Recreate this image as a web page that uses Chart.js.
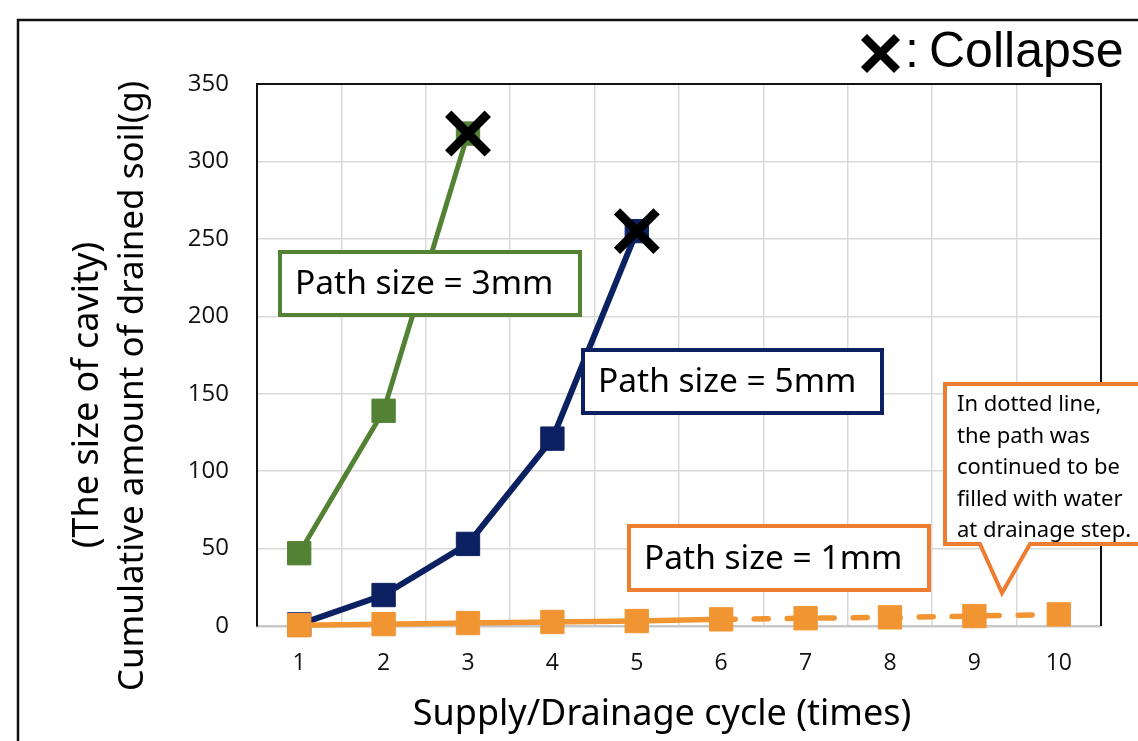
<!DOCTYPE html>
<html>
<head>
<meta charset="utf-8">
<script src="https://cdn.jsdelivr.net/npm/chart.js@4"></script>
<style>
  html, body { margin: 0; padding: 0; background: #fff; }
  #wrap { width: 1138px; height: 741px; position: relative; }
</style>
</head>
<body>
<div id="wrap"><canvas id="c" width="1138" height="741"></canvas></div>
<script>
// ---- data ----
const categories = ['1', '2', '3', '4', '5', '6', '7', '8', '9', '10'];
const size3mm = [47, 139, 318, null, null, null, null, null, null, null];
const size5mm = [1, 20, 53, 121, 255, null, null, null, null, null];
const size1mm = [0.5, 1.2, 1.9, 2.6, 3.2, 4.3, 5.0, 5.6, 6.4, 7.5];
const collapsePoints = [null, null, 318, null, 255, null, null, null, null, null];
const yTickValues = [0, 50, 100, 150, 200, 250, 300, 350];
const dashedFromIndex = 5; // segments after cycle 6 are dotted

const labelFont = '"Noto Sans", "Open Sans", sans-serif';
const tickFont = '"Open Sans", "Noto Sans", sans-serif';

const GREEN = '#548235';
const NAVY = '#0B2162';
const ORANGE_M = '#F19533';
const ORANGE_B = '#ED7D31';

const decorPlugin = {
  id: 'decor',
  beforeDraw(chart) {
    const ctx = chart.ctx;
    ctx.save();
    ctx.fillStyle = '#fff';
    ctx.fillRect(0, 0, chart.width, chart.height);
    ctx.strokeStyle = '#111';
    ctx.lineWidth = 2.5;
    ctx.beginPath();
    ctx.moveTo(18, chart.height + 5);
    ctx.lineTo(18, 20);
    ctx.lineTo(chart.width + 5, 20);
    ctx.stroke();
    ctx.restore();
  },
  beforeDatasetsDraw(chart) {
    const ctx = chart.ctx;
    const a = chart.chartArea;
    ctx.save();
    ctx.strokeStyle = '#111';
    ctx.lineWidth = 2;
    ctx.beginPath();
    ctx.moveTo(a.left, a.top);
    ctx.lineTo(a.right, a.top);
    ctx.lineTo(a.right, a.bottom);
    ctx.stroke();
    ctx.restore();
  },
  afterDraw(chart) {
    const ctx = chart.ctx;
    ctx.save();
    ctx.fillStyle = '#000';
    ctx.textAlign = 'center';
    ctx.textBaseline = 'middle';
    ctx.font = '36px ' + labelFont;
    ctx.fillText('Supply/Drainage cycle (times)', 662, 715);
    ctx.save();
    ctx.translate(88, 395);
    ctx.rotate(-Math.PI / 2);
    ctx.font = '36px ' + labelFont;
    ctx.fillText('(The size of cavity)', 0, 0);
    ctx.restore();
    ctx.save();
    ctx.translate(133, 386);
    ctx.rotate(-Math.PI / 2);
    ctx.font = '35px ' + labelFont;
    ctx.fillText('Cumulative amount of drained soil(g)', 0, 0);
    ctx.restore();

    // Collapse legend
    ctx.strokeStyle = '#000';
    ctx.lineWidth = 8.5;
    ctx.beginPath();
    ctx.moveTo(864, 37); ctx.lineTo(897, 70);
    ctx.moveTo(897, 37); ctx.lineTo(864, 70);
    ctx.stroke();
    ctx.textAlign = 'left';
    ctx.font = '50px "Liberation Sans", sans-serif';
    ctx.fillText(':', 905, 53);
    ctx.fillText('Collapse', 929, 53);

    function box(x, y, w, h, color, text) {
      ctx.fillStyle = '#fff';
      ctx.fillRect(x, y, w, h);
      ctx.strokeStyle = color;
      ctx.lineWidth = 4;
      ctx.strokeRect(x, y, w, h);
      ctx.fillStyle = '#000';
      ctx.font = '33.5px ' + labelFont;
      ctx.textAlign = 'left';
      ctx.textBaseline = 'middle';
      ctx.fillText(text, x + 15, y + h / 2 + 1);
    }
    box(280, 252, 300, 63, GREEN, 'Path size = 3mm');
    box(583, 350, 299, 63, NAVY, 'Path size = 5mm');
    box(629, 526, 300, 64, ORANGE_B, 'Path size = 1mm');

    // callout
    ctx.beginPath();
    ctx.moveTo(945, 384);
    ctx.lineTo(1145, 384);
    ctx.lineTo(1145, 544);
    ctx.lineTo(1030, 544);
    ctx.lineTo(1002, 593);
    ctx.lineTo(980, 544);
    ctx.lineTo(945, 544);
    ctx.closePath();
    ctx.fillStyle = '#fff';
    ctx.fill();
    ctx.strokeStyle = ORANGE_B;
    ctx.lineWidth = 4;
    ctx.lineJoin = 'miter';
    ctx.stroke();
    ctx.fillStyle = '#000';
    ctx.font = '22px ' + labelFont;
    const lines = ['In dotted line,', 'the path was', 'continued to be', 'filled with water', 'at drainage step.'];
    lines.forEach((t, i) => ctx.fillText(t, 957, 405 + i * 31.5));
    ctx.restore();
  }
};

new Chart(document.getElementById('c'), {
  type: 'line',
  data: {
    labels: categories,
    datasets: [
      {
        label: 'Collapse',
        data: collapsePoints,
        showLine: false,
        clip: false,
        pointStyle: 'crossRot',
        pointRadius: 28,
        pointBorderWidth: 9,
        pointBorderColor: '#000',
        pointBackgroundColor: '#000',
        borderColor: '#000',
        order: 0
      },
      {
        label: 'Path size = 1mm',
        data: size1mm,
        clip: false,
        borderColor: ORANGE_M,
        backgroundColor: ORANGE_M,
        borderWidth: 5.5,
        pointStyle: 'rect',
        pointRadius: 16.5,
        pointBorderWidth: 1,
        pointBorderColor: ORANGE_M,
        pointBackgroundColor: ORANGE_M,
        segment: {
          borderDash: c => c.p0DataIndex >= dashedFromIndex ? [14, 19] : undefined,
          borderCapStyle: c => c.p0DataIndex >= dashedFromIndex ? 'round' : 'butt'
        },
        order: 1
      },
      {
        label: 'Path size = 5mm',
        data: size5mm,
        clip: false,
        borderColor: NAVY,
        backgroundColor: NAVY,
        borderWidth: 6,
        pointStyle: 'rect',
        pointRadius: 16.5,
        pointBorderWidth: 1,
        pointBackgroundColor: NAVY,
        pointBorderColor: NAVY,
        order: 2
      },
      {
        label: 'Path size = 3mm',
        data: size3mm,
        clip: false,
        borderColor: GREEN,
        backgroundColor: GREEN,
        borderWidth: 5,
        pointStyle: 'rect',
        pointRadius: 16.5,
        pointBorderWidth: 1,
        pointBackgroundColor: GREEN,
        pointBorderColor: GREEN,
        order: 3
      }
    ]
  },
  options: {
    responsive: false,
    animation: false,
    spanGaps: false,
    layout: { padding: { top: 84, right: 35, left: 0, bottom: 0 } },
    plugins: { legend: { display: false }, tooltip: { enabled: false } },
    scales: {
      x: {
        offset: true,
        grid: { offset: true, color: '#d9d9d9', lineWidth: 1.5, drawTicks: false },
        border: { color: '#c8c8c8', width: 2.5 },
        ticks: { color: '#111', font: { family: tickFont, size: 23 }, padding: 24 },
        afterFit: s => { s.height = 115; }
      },
      y: {
        min: 0,
        max: 350,
        afterBuildTicks: s => { s.ticks = yTickValues.map(v => ({ value: v })); },
        grid: { color: '#d9d9d9', lineWidth: 1.5, drawTicks: false },
        border: { color: '#111', width: 2 },
        ticks: { color: '#111', font: { family: tickFont, size: 24 }, padding: 28 },
        afterFit: s => { s.width = 257; }
      }
    }
  },
  plugins: [decorPlugin]
});
</script>
</body>
</html>
